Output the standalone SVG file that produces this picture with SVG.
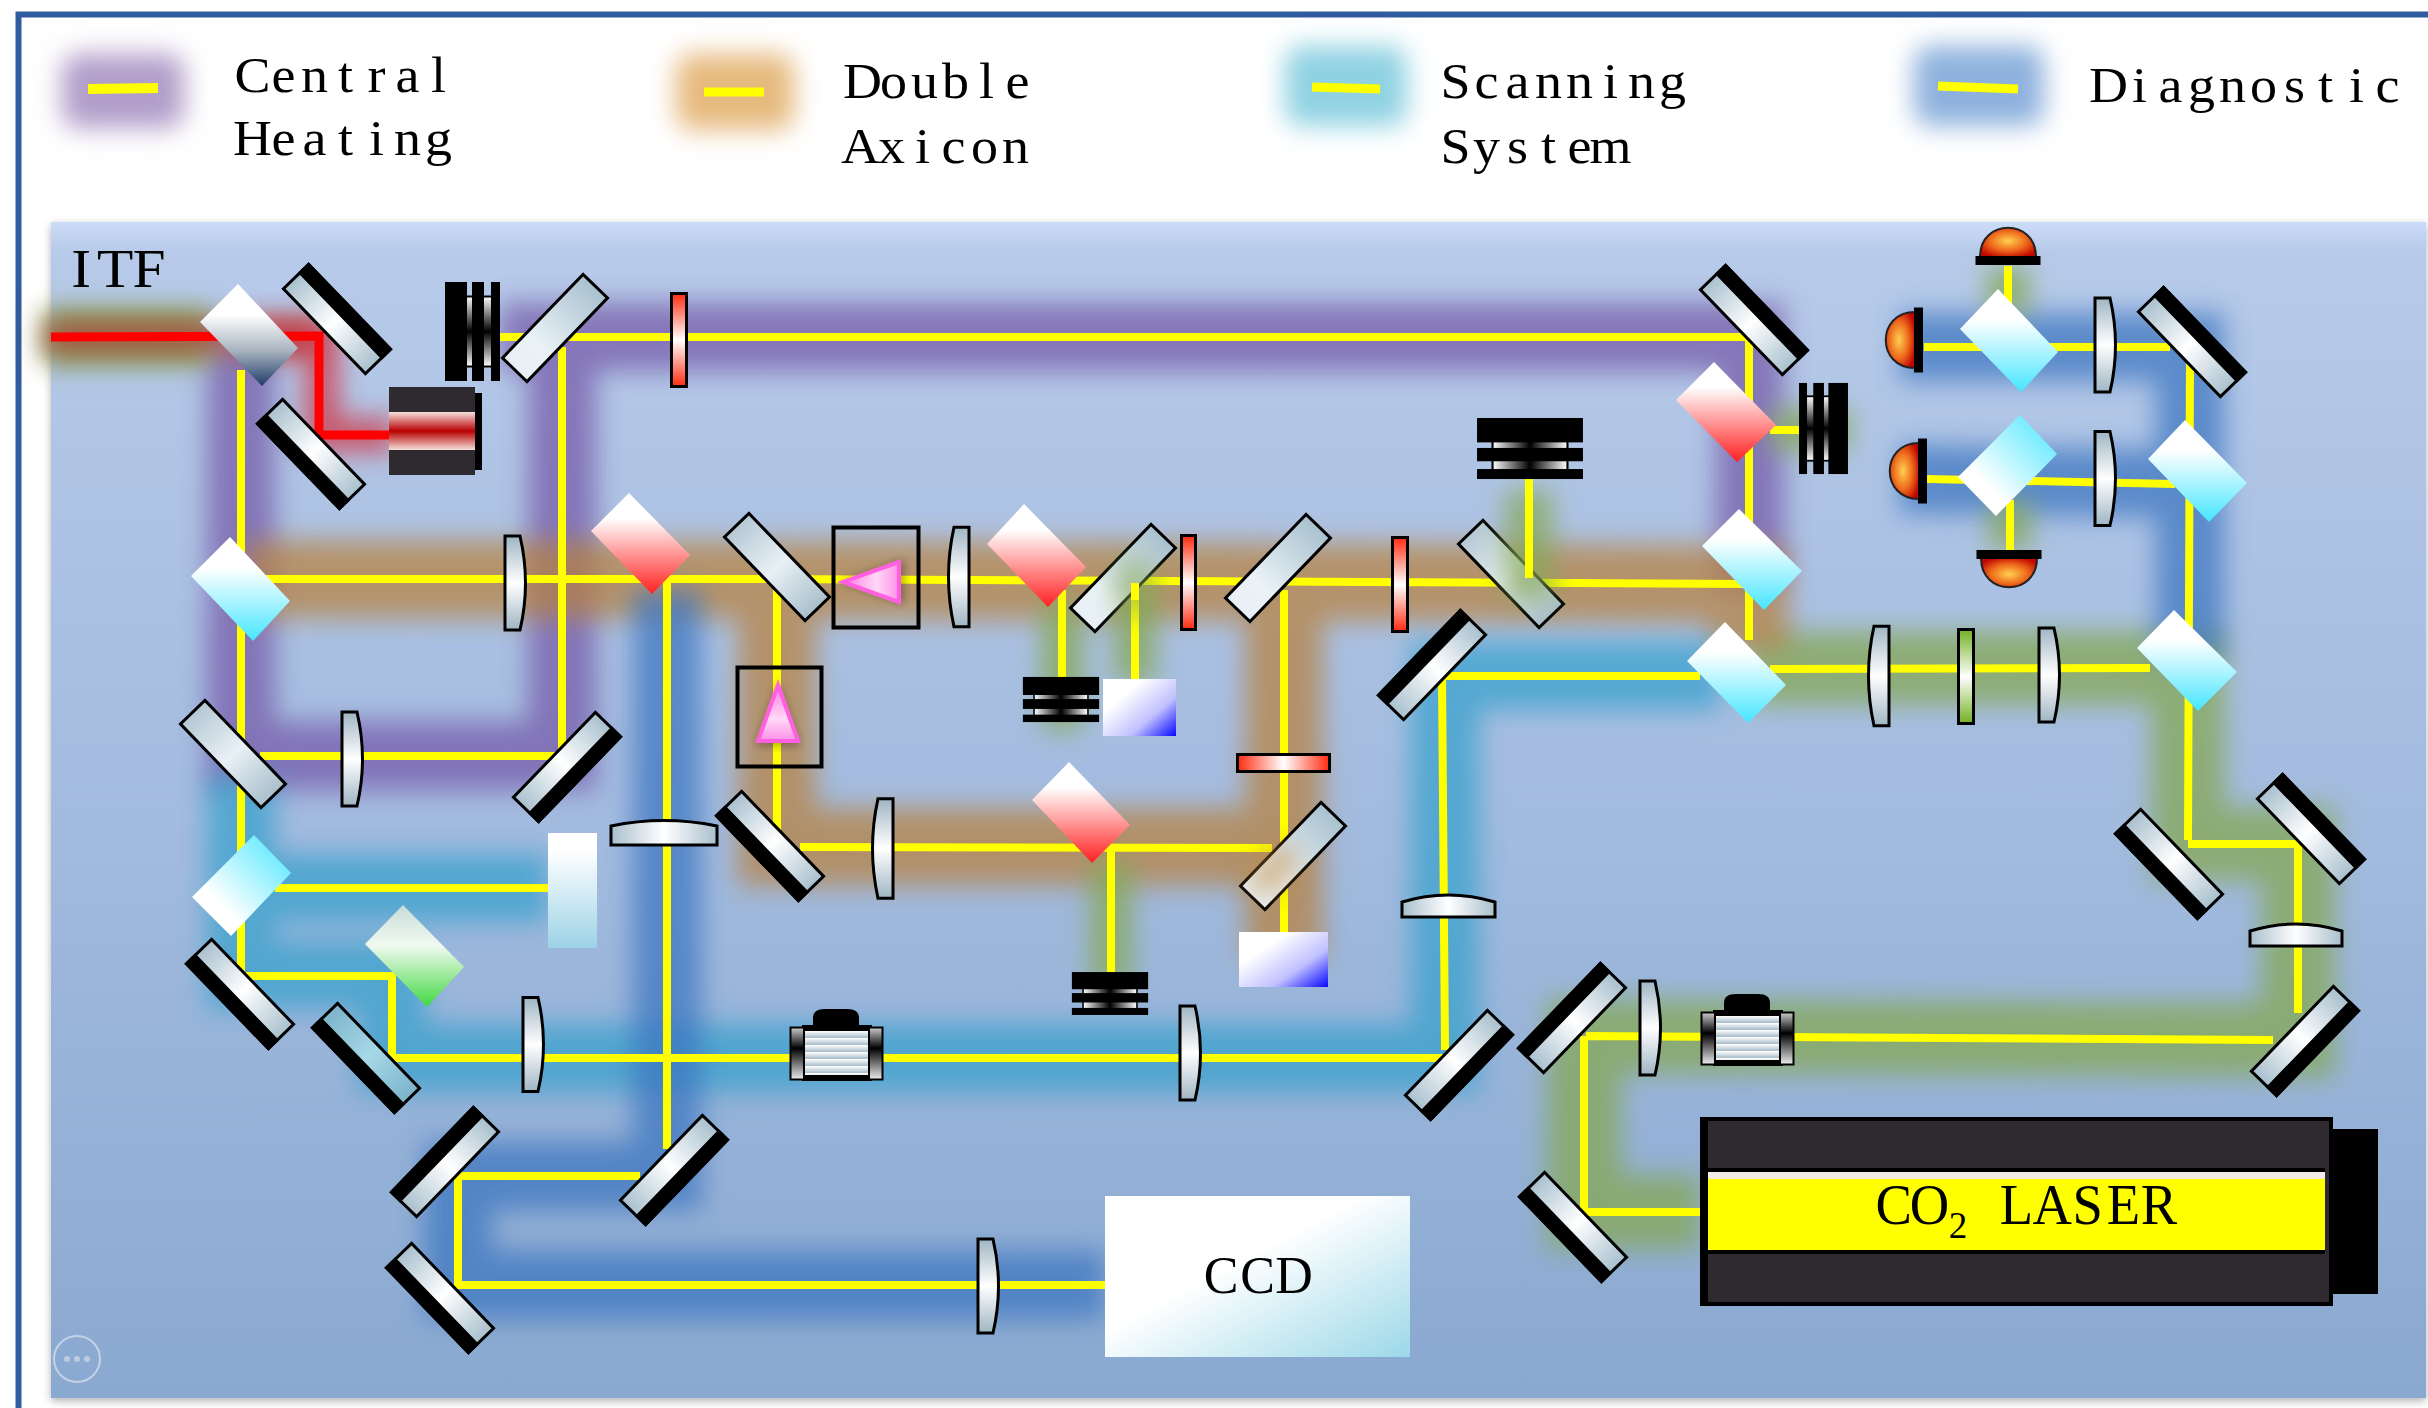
<svg xmlns="http://www.w3.org/2000/svg" width="2428" height="1408" viewBox="0 0 2428 1408">
<style>
.t{font-family:"Liberation Serif","DejaVu Serif",serif;font-size:50px;fill:#000;text-anchor:middle}
.g{fill:none;stroke-linejoin:miter;stroke-linecap:butt;filter:url(#bl)}
.pu{stroke:#7459a8;stroke-width:68;opacity:.72}
.or{stroke:#b8813d;stroke-width:78;opacity:.72}
.cy{stroke:#36a0cc;stroke-width:68;opacity:.72}
.bu{stroke:#3a74c0;stroke-width:68;opacity:.72}
.gr{stroke:#86a858;stroke-width:74;opacity:.78}
.gn{stroke:#86a858;stroke-width:42;opacity:.8}
.b{fill:none;stroke:#ff0;stroke-width:8;stroke-linejoin:miter}
.r{fill:none;stroke:#f00;stroke-width:9;stroke-linejoin:miter}
.len{fill:url(#lg);stroke:#000;stroke-width:3;vector-effect:non-scaling-stroke}
.flt{stroke:#000;stroke-width:3}
</style>
<defs>
<filter id="bl" filterUnits="userSpaceOnUse" x="0" y="0" width="2428" height="1408"><feGaussianBlur stdDeviation="13"/></filter>
<filter id="bl2" filterUnits="userSpaceOnUse" x="0" y="0" width="2428" height="1408"><feGaussianBlur stdDeviation="13"/></filter>
<filter id="sh" x="-20%" y="-20%" width="140%" height="140%"><feDropShadow dx="0" dy="3" stdDeviation="4" flood-opacity=".3"/></filter>
<linearGradient id="pan" x1="0" y1="0" x2="0" y2="1"><stop offset="0" stop-color="#cbdcf9"/><stop offset=".025" stop-color="#b7cae9"/><stop offset=".5" stop-color="#a3bbdf"/><stop offset="1" stop-color="#8aa9d0"/></linearGradient>
<linearGradient id="mg" x1="0" y1="0" x2="1" y2="0"><stop offset="0" stop-color="#a9c0ce"/><stop offset=".5" stop-color="#fff"/><stop offset="1" stop-color="#a9c0ce"/></linearGradient>
<linearGradient id="mgp" x1="0" y1="0" x2="1" y2="0"><stop offset="0" stop-color="#e8f0f6"/><stop offset=".3" stop-color="#eaf2f7"/><stop offset="1" stop-color="#a9c1cf"/></linearGradient>
<linearGradient id="mgs" x1="0" y1="0" x2="1" y2="0"><stop offset="0" stop-color="#b5c8d4"/><stop offset=".5" stop-color="#e8f0f5"/><stop offset="1" stop-color="#a9bfcc"/></linearGradient>
<linearGradient id="mgc" x1="0" y1="0" x2="1" y2="0"><stop offset="0" stop-color="#7cb4cc"/><stop offset=".5" stop-color="#a6d8e6"/><stop offset="1" stop-color="#7cb4cc"/></linearGradient>
<linearGradient id="lg" x1="0" y1="0" x2="0" y2="1"><stop offset="0" stop-color="#9fb5c3"/><stop offset=".5" stop-color="#fff"/><stop offset="1" stop-color="#9fb5c3"/></linearGradient>
<linearGradient id="lgh" x1="0" y1="0" x2="1" y2="0"><stop offset="0" stop-color="#a9bfcc"/><stop offset=".5" stop-color="#fff"/><stop offset="1" stop-color="#a9bfcc"/></linearGradient>
<linearGradient id="dc" x1="0" y1="0" x2="0" y2="1"><stop offset=".3" stop-color="#fff"/><stop offset="1" stop-color="#45e6ff"/></linearGradient>
<linearGradient id="dc2" x1="0" y1="1" x2="1" y2="0"><stop offset=".3" stop-color="#fff"/><stop offset="1" stop-color="#45e6ff"/></linearGradient>
<linearGradient id="dr" x1="0" y1="0" x2="0" y2="1"><stop offset=".25" stop-color="#fff"/><stop offset="1" stop-color="#ff2020"/></linearGradient>
<linearGradient id="dg" x1="0" y1="0" x2="0" y2="1"><stop offset=".3" stop-color="#fff"/><stop offset=".65" stop-color="#a9b4c0"/><stop offset="1" stop-color="#203c6a"/></linearGradient>
<linearGradient id="dgr" x1="0" y1="0" x2="0" y2="1"><stop offset="0" stop-color="#c8dcd8"/><stop offset=".4" stop-color="#f0faf0"/><stop offset="1" stop-color="#40d840"/></linearGradient>
<linearGradient id="fr" x1="0" y1="0" x2="0" y2="1"><stop offset="0" stop-color="#ff2a10"/><stop offset=".5" stop-color="#fff"/><stop offset="1" stop-color="#ff2a10"/></linearGradient>
<linearGradient id="frh" x1="0" y1="0" x2="1" y2="0"><stop offset="0" stop-color="#ff2a10"/><stop offset=".5" stop-color="#fff"/><stop offset="1" stop-color="#ff2a10"/></linearGradient>
<linearGradient id="fg" x1="0" y1="0" x2="0" y2="1"><stop offset="0" stop-color="#72b020"/><stop offset=".5" stop-color="#fff"/><stop offset="1" stop-color="#72b020"/></linearGradient>
<linearGradient id="sq" x1="0" y1=".1" x2="1" y2="1"><stop offset=".25" stop-color="#fff"/><stop offset=".65" stop-color="#c0c0ff"/><stop offset="1" stop-color="#0808ff"/></linearGradient>
<linearGradient id="ccd" x1="0" y1="0" x2="1" y2="1"><stop offset=".42" stop-color="#fff"/><stop offset="1" stop-color="#9cd8e8"/></linearGradient>
<linearGradient id="wr" x1="0" y1="0" x2="0" y2="1"><stop offset=".15" stop-color="#fff"/><stop offset="1" stop-color="#9cd2e6"/></linearGradient>
<linearGradient id="att" x1="0" y1="0" x2="0" y2="1"><stop offset="0" stop-color="#f4e0dc"/><stop offset=".5" stop-color="#b80000"/><stop offset="1" stop-color="#f4e0dc"/></linearGradient>
<linearGradient id="gap" x1="0" y1="0" x2="0" y2="1"><stop offset="0" stop-color="#fff"/><stop offset=".5" stop-color="#000"/><stop offset="1" stop-color="#fff"/></linearGradient>
<linearGradient id="cap" x1="0" y1="0" x2="0" y2="1"><stop offset="0" stop-color="#ccc"/><stop offset=".4" stop-color="#000"/><stop offset="1" stop-color="#eee"/></linearGradient>
<linearGradient id="stripe" x1="0" y1="0" x2="0" y2="1" spreadMethod="repeat" gradientTransform="scale(1 .16)"><stop offset="0" stop-color="#fff"/><stop offset="1" stop-color="#a3b9c8"/></linearGradient>
<linearGradient id="tri" x1="0" y1="0" x2="0" y2="1"><stop offset="0" stop-color="#ff78e4"/><stop offset=".6" stop-color="#ffd8f6"/><stop offset="1" stop-color="#ff90e8"/></linearGradient>
<radialGradient id="pd" cx=".5" cy=".45" r=".6"><stop offset="0" stop-color="#ffd050"/><stop offset=".55" stop-color="#ee6a1c"/><stop offset="1" stop-color="#c00800"/></radialGradient>
<g id="mb"><rect x="-59" y="-17.5" width="118" height="35" fill="url(#mg)" stroke="#000" stroke-width="3"/><rect x="-59" y="-17.5" width="118" height="12" fill="#000" stroke="#000" stroke-width="3"/></g>
<g id="mc"><rect x="-59" y="-17.5" width="118" height="35" fill="url(#mgc)" stroke="#000" stroke-width="3"/><rect x="-59" y="-17.5" width="118" height="12" fill="#000" stroke="#000" stroke-width="3"/></g>
<rect id="mp" x="-58" y="-17" width="116" height="34" fill="url(#mgp)" stroke="#000" stroke-width="3"/>
<rect id="ms" x="-58" y="-17" width="116" height="34" fill="url(#mgs)" stroke="#000" stroke-width="3"/>
<path id="l" class="len" d="M-10,-47H5Q16,0 5,47H-10Z"/>
<g id="comb"><rect x="-8" y="-35" width="30" height="70" fill="url(#gap)" stroke="#000" stroke-width="2"/><rect x="-27.5" y="-49.5" width="22" height="99"/><rect x="-.5" y="-49.5" width="12" height="99"/><rect x="18.5" y="-49.5" width="9" height="99"/></g>
<g id="pdi"><path d="M-28,0C-28,-39 28,-39 28,0Z" fill="url(#pd)" stroke="#222" stroke-width="2"/><rect x="-32.5" y="-1" width="65" height="9"/></g>
<path id="tr" d="M0,-28L20,28H-20Z" fill="url(#tri)" stroke="#ff5fe0" stroke-width="4" stroke-linejoin="miter" filter="url(#sh)"/>
<g id="cam"><path d="M33,1025V1018Q33,1009 45,1009H67Q79,1009 79,1018V1025H92V1081H22V1025Z" transform="translate(780 0)"/><rect x="804" y="1031" width="65" height="44" fill="url(#stripe)"/><rect x="790.500" y="1027.500" width="13.500" height="52" fill="url(#cap)" stroke="#000" stroke-width="2"/><rect x="869" y="1027.500" width="13.500" height="52" fill="url(#cap)" stroke="#000" stroke-width="2"/></g>
</defs>
<rect width="2428" height="1408" fill="#fff"/>
<path d="M18.500,1408V14.500H2428" fill="none" stroke="#2f5b9f" stroke-width="6"/>
<g id="panel"><rect x="51" y="222" width="2375" height="1176" fill="url(#pan)" filter="url(#sh)"/></g>
<g id="legend">
<rect x="62" y="54" width="122" height="74" rx="16" fill="#b19dc9" filter="url(#bl2)"/><path d="M88,89L158,88" stroke="#ff0" stroke-width="10"/>
<rect x="676" y="54" width="118" height="76" rx="16" fill="#e6b97e" filter="url(#bl2)"/><path d="M704,92H764" stroke="#ff0" stroke-width="9"/>
<rect x="1285" y="46" width="122" height="80" rx="16" fill="#8fd2e2" filter="url(#bl2)"/><path d="M1312,87L1380,89" stroke="#ff0" stroke-width="9"/>
<rect x="1914" y="46" width="130" height="80" rx="16" fill="#8db1dd" filter="url(#bl2)"/><path d="M1938,86L2018,89" stroke="#ff0" stroke-width="9"/>
<g transform="translate(237 92) scale(1.08 1)"><text class="t" x="14.350 43.050 71.750 100.450 129.150 157.850 186.550">Central</text></g>
<g transform="translate(237 155) scale(1.08 1)"><text class="t" x="14.350 43.050 71.750 100.450 129.150 157.850 186.550">Heating</text></g>
<g transform="translate(847 98) scale(1.08 1)"><text class="t" x="14.350 43.050 71.750 100.450 129.150 157.850">Double</text></g>
<g transform="translate(845 163) scale(1.08 1)"><text class="t" x="14.350 43.050 71.750 100.450 129.150 157.850">Axicon</text></g>
<g transform="translate(1440 98) scale(1.08 1)"><text class="t" x="14.350 43.050 71.750 100.450 129.150 157.850 186.550 215.250">Scanning</text></g>
<g transform="translate(1440 163) scale(1.08 1)"><text class="t" x="14.350 43.050 71.750 100.450 129.150 157.850">System</text></g>
<g transform="translate(2093 102) scale(1.08 1)"><text class="t" x="14.350 43.050 71.750 100.450 129.150 157.850 186.550 215.250 243.950 272.650">Diagnostic</text></g>
</g>
<g transform="translate(64 287) scale(1.1 1)"><text class="t" style="font-size:54px" x="15.500 46.400 77.300">ITF</text></g>
<g id="connectors">
<path class="g gr" d="M1750,668H2188V844H2298V1040L1584,1036V1212H1700"/>
<path class="g pu" d="M500,337H1750V590M241,345V756H562V345"/>
<path class="g or" d="M245,579L765,580L1749,584V650M777,580V847H1284V590M1284,847V960"/>
<path class="g cy" d="M241,775V975H392V1058H1445V676H1720M241,888H548"/>
<path class="g bu" d="M667,590V1176H458V1285H1105M1900,347H2190V660M1900,479L2190,484"/>
<path class="g gn" d="M1062,600V730M1135,590V682M1111,860V985M2008,266V315M2010,500V550M1770,430H1850"/>
<path class="g" d="M45,337H210" stroke="#86a858" stroke-width="56"/>
<path class="g" d="M45,337H319" stroke="#a85044" stroke-width="34" opacity=".9"/>
<path class="g" d="M250,337H322V435H395" stroke="#d03040" stroke-width="34" opacity=".75"/>
<path class="b" d="M500,337H1749V640M241,370V972M562,347V756H260M262,579L765,579L1749,584M777,590V835M800,847L1272,848M1062,590V677M1135,583V679M1284,590V932M1111,850V972M1445,1050L1442,676H1700M275,888H548M245,976H392V1058H1450M667,579V1149M640,1176H458V1285H1105"/>
<path class="b" d="M1924,347H2170M2008,266V310M1927,479L2175,484M2010,500V550M2190,360L2188,840M1770,430H1799M1770,669L2150,668M2188,844H2298V960M1586,1036L2273,1040M1584,1036V1212H1700"/>
<path class="r" d="M51,337L319,336V435H389"/>
</g>
<g id="beamsplitters">
<polygon id="bs1" points="238,284 298,348 262,386 200,322" fill="url(#dg)"/>
<polygon id="bs2" points="230,537 290,601 253,641 191,576" fill="url(#dc)"/>
<polygon id="bs3" points="254,835 291,873 231,936 192,897" fill="url(#dc2)"/>
<polygon id="bs4" points="403,905 464,967 427,1007 365,944" fill="url(#dgr)"/>
<polygon id="bs5" points="629,493 690,555 652,594 591,531" fill="url(#dr)"/>
<polygon id="bs6" points="1024,504 1086,567 1048,607 987,544" fill="url(#dr)"/>
<polygon id="bs7" points="1069,762 1130,825 1092,863 1032,800" fill="url(#dr)"/>
<polygon id="bs8" points="1714,362 1776,425 1737,462 1676,400" fill="url(#dr)"/>
<polygon id="bs9" points="1739,509 1802,571 1764,610 1702,546" fill="url(#dc)"/>
<polygon id="bs10" points="1725,622 1786,685 1748,723 1687,661" fill="url(#dc)"/>
<polygon id="bs11" points="2174,610 2237,672 2198,711 2137,648" fill="url(#dc)"/>
<polygon id="bs12" points="2185,420 2247,483 2209,522 2148,459" fill="url(#dc)"/>
<polygon id="bs13" points="1998,289 2058,352 2021,392 1960,329" fill="url(#dc)"/>
<polygon id="bs14" points="2020,415 2057,454 1996,516 1958,477" fill="url(#dc2)"/>
</g>
<g id="mirrors">
<use href="#mb" transform="translate(337 319) rotate(46)"/>
<use href="#mb" transform="translate(311 454) rotate(226)"/>
<use href="#mb" transform="translate(567 767) rotate(134)"/>
<use href="#mb" transform="translate(240 994) rotate(226)"/>
<use href="#mc" transform="translate(366 1058) rotate(226)"/>
<use href="#mb" transform="translate(445 1162) rotate(-46)"/>
<use href="#mb" transform="translate(674 1170) rotate(134)"/>
<use href="#mb" transform="translate(440 1298) rotate(226)"/>
<use href="#mb" transform="translate(770 846) rotate(226)"/>
<use href="#mb" transform="translate(1432 665) rotate(-46)"/>
<use href="#mb" transform="translate(1459 1065) rotate(134)"/>
<use href="#mb" transform="translate(1754 320) rotate(46)"/>
<use href="#mb" transform="translate(2192 342) rotate(46)"/>
<use href="#mb" transform="translate(2169 864) rotate(226)"/>
<use href="#mb" transform="translate(2311 829) rotate(46)"/>
<use href="#mb" transform="translate(2305 1041) rotate(134)"/>
<use href="#mb" transform="translate(1572 1018) rotate(-46)"/>
<use href="#mb" transform="translate(1573 1227) rotate(226)"/>
<use href="#mp" transform="translate(555 328) rotate(-46)"/>
<use href="#ms" transform="translate(233 754) rotate(46)"/>
<use href="#ms" transform="translate(777 567) rotate(46)"/>
<use href="#mp" transform="translate(1123 578) rotate(-46)"/>
<use href="#mp" transform="translate(1278 568) rotate(-46)"/>
<use href="#ms" transform="translate(1511 574) rotate(46)"/>
<use href="#mp" transform="translate(1293 856) rotate(-46)"/>
</g>
<g id="overlays">
<path class="g" d="M1135,560V615" stroke="#86a858" stroke-width="40" opacity=".6"/>
<path class="g" d="M1529,490V600" stroke="#86a858" stroke-width="48" opacity=".75"/>
<path class="g" d="M1290,850L1256,890" stroke="#c08a40" stroke-width="34" opacity=".55"/>
<path class="b" d="M1135,583V600M1529,479V578M2298,960V1013"/>
</g>
<g id="lenses">
<use href="#l" transform="translate(352 759)"/>
<use href="#l" transform="translate(515 583)"/>
<use href="#l" transform="translate(533 1044.500)"/>
<path class="len" d="M611,845V826Q664,815 717,826V845Z" style="fill:url(#lgh)"/>
<use href="#l" transform="translate(959 577) scale(-1 1.06)"/>
<use href="#l" transform="translate(883 848.500) scale(-1 1.06)"/>
<use href="#l" transform="translate(1190 1053)"/>
<use href="#l" transform="translate(988 1286)"/>
<use href="#l" transform="translate(1879 676) scale(-1 1.06)"/>
<use href="#l" transform="translate(2049 675)"/>
<use href="#l" transform="translate(2105 345)"/>
<use href="#l" transform="translate(2105 478.500)"/>
<use href="#l" transform="translate(1650 1028)"/>
<path class="len" d="M1402,917V902Q1448,888 1495,902V917Z" style="fill:url(#lgh)"/>
<path class="len" d="M2250,946V931Q2296,917 2342,931V946Z" style="fill:url(#lgh)"/>
</g>
<g id="filters">
<rect class="flt" x="671.500" y="293.500" width="15" height="93" fill="url(#fr)"/>
<rect class="flt" x="1181.500" y="535.500" width="14" height="94" fill="url(#fr)"/>
<rect class="flt" x="1392.500" y="537.500" width="15" height="94" fill="url(#fr)"/>
<rect class="flt" x="1237.500" y="754.500" width="92" height="17" fill="url(#frh)"/>
<rect class="flt" x="1958.500" y="629.500" width="15" height="94" fill="url(#fg)"/>
</g>
<g id="combs">
<use href="#comb" transform="translate(472.500 331.500)"/>
<use href="#comb" transform="translate(1061 699.500) rotate(90) scale(.82 .77)"/>
<use href="#comb" transform="translate(1110 993.500) rotate(90) scale(.78 .77)"/>
<use href="#comb" transform="translate(1823.500 428.500) rotate(180) scale(.89 .92)"/>
<use href="#comb" transform="translate(1530 448.500) rotate(90) scale(1.11 1.07)"/>
</g>
<g id="attenuator"><rect x="389" y="387" width="86" height="88" fill="#2e2a30"/><rect x="389" y="412" width="86" height="38" fill="url(#att)"/><rect x="475" y="393" width="7" height="77"/></g>
<g id="axicon1"><rect x="833.500" y="527.500" width="85" height="100" fill="none" stroke="#000" stroke-width="4"/><use href="#tr" transform="translate(871 582) rotate(-90)"/></g>
<g id="axicon2"><rect x="737.500" y="667.500" width="84" height="99" fill="none" stroke="#000" stroke-width="4"/><use href="#tr" transform="translate(778 713)"/></g>
<g id="whitebox"><rect x="548" y="833" width="49" height="115" fill="url(#wr)"/></g>
<g id="sq1"><rect x="1103" y="679" width="73" height="57" fill="url(#sq)"/></g>
<g id="sq2"><rect x="1239" y="932" width="89" height="55" fill="url(#sq)"/></g>
<g id="cam1"><use href="#cam"/></g>
<g id="cam2"><use href="#cam" transform="translate(911 -15)"/></g>
<g id="pd1"><use href="#pdi" transform="translate(2008 257)"/></g>
<g id="pd2"><use href="#pdi" transform="translate(1915 340) rotate(-90)"/></g>
<g id="pd3"><use href="#pdi" transform="translate(1919 471) rotate(-90)"/></g>
<g id="pd4"><use href="#pdi" transform="translate(2009 558) rotate(180)"/></g>
<g id="ccd-node"><rect x="1105" y="1196" width="305" height="161" fill="url(#ccd)"/><g transform="translate(1203 1293)"><text class="t" style="font-size:52px" x="18 54.500 91">CCD</text></g></g>
<g id="laser"><rect x="2332" y="1129" width="46" height="165"/><rect x="1704" y="1119" width="627" height="185" fill="#2e2a30" stroke="#000" stroke-width="4"/><rect x="1700" y="1117" width="8" height="189"/><rect x="1708" y="1168" width="617" height="4"/><rect x="1708" y="1172" width="617" height="7" fill="#f4ece4"/><rect x="1708" y="1179" width="617" height="71" fill="#ff0"/><rect x="1708" y="1250" width="617" height="4"/>
<g transform="translate(1876 1224) scale(.976 1)"><text class="t" style="font-size:56px" x="18.200 54.700">CO<tspan x="84" dy="14" style="font-size:38px">2</tspan><tspan x="110" dy="-14"> </tspan><tspan x="144 180.700 217 253.600 290">LASER</tspan></text></g></g>
<g id="ellipsis"><circle cx="77" cy="1359" r="23" fill="none" stroke="#c4d2e6" stroke-width="2"/><circle cx="67" cy="1359" r="3" fill="#bccbe0"/><circle cx="77" cy="1359" r="3" fill="#bccbe0"/><circle cx="87" cy="1359" r="3" fill="#bccbe0"/></g>
</svg>
